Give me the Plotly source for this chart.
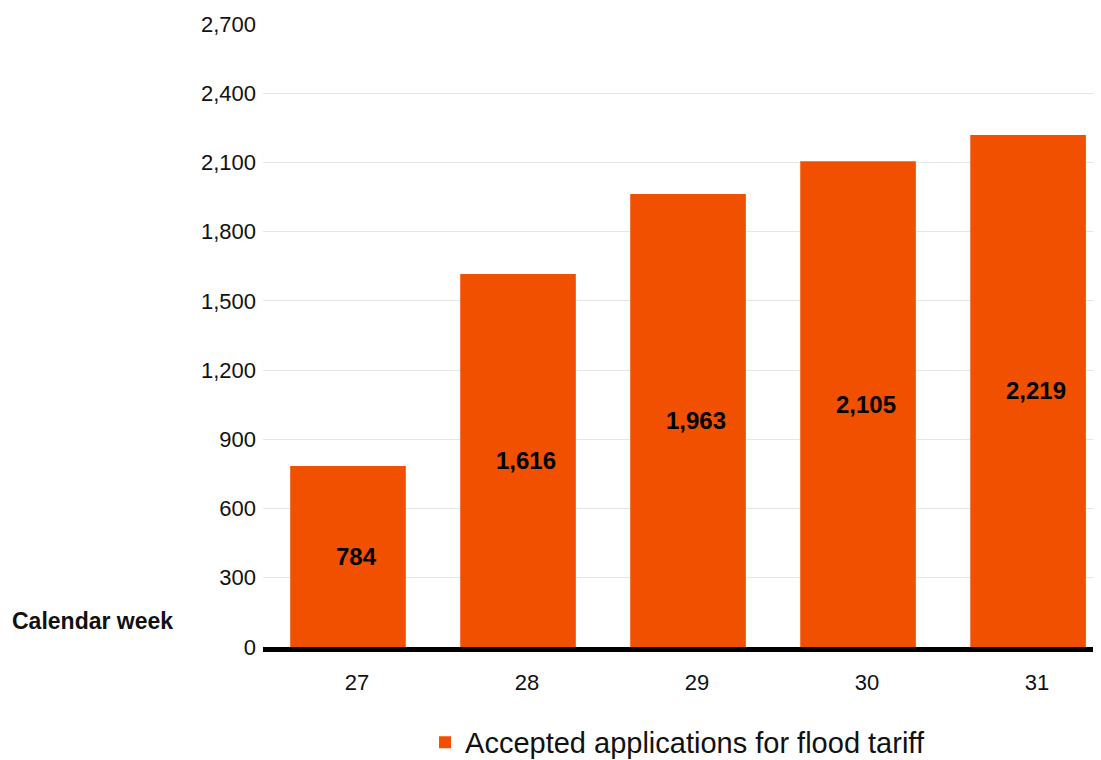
import plotly.graph_objects as go

WEEKS = ["27", "28", "29", "30", "31"]
ACCEPTED = [784, 1616, 1963, 2105, 2219]
Y_TICKS = [0, 300, 600, 900, 1200, 1500, 1800, 2100, 2400, 2700]

ORANGE = "#F05000"
FONT = "Liberation Sans, Arial, sans-serif"

# the page puts the plot 8px in from the top left corner
fig = go.Figure()
fig.add_trace(go.Bar(
    x=WEEKS, y=ACCEPTED,
    name="Accepted applications for flood tariff",
    marker=dict(color=ORANGE, line=dict(width=0)),
    width=0.68,
))

# value labels sit a little right of the bar centre, like the original
# (category index is used, "27" would be read as position 27)
labels = [dict(x=i, y=v / 2, text=f"<b>{v:,}</b>", showarrow=False, xshift=8,
               font=dict(size=24, color="black"))
          for i, v in enumerate(ACCEPTED)]
labels.append(dict(
    text="<b>Calendar week</b>", xref="paper", yref="paper",
    x=-253 / 846, y=26 / 625, xanchor="left", yanchor="middle",
    showarrow=False, font=dict(size=23, color="#111"),
))

fig.update_layout(
    width=1101, height=760,
    margin=dict(l=255, r=0, t=16, b=119),
    paper_bgcolor="white", plot_bgcolor="white",
    font=dict(family=FONT, color="#111"),
    showlegend=True,
    legend=dict(orientation="h", x=0.49, xanchor="center", y=-0.112, yanchor="top",
                font=dict(size=29, color="#111"), itemwidth=30),
    xaxis=dict(type="category", range=[-0.5, 4.476], showgrid=False,
               showline=True, linecolor="black", linewidth=5,
               tickfont=dict(size=22, color="#111"), ticks="",
               ticklabelstandoff=12, ticklabelshift=9),
    yaxis=dict(range=[0, 2700], tickvals=Y_TICKS, tickformat=",",
               showgrid=True, gridcolor="#e6e6e6", gridwidth=1,
               zeroline=False, showline=False, ticks="",
               tickfont=dict(size=22, color="#111"), ticklabelstandoff=6),
    annotations=labels,
)

fig.write_html("out.html")
